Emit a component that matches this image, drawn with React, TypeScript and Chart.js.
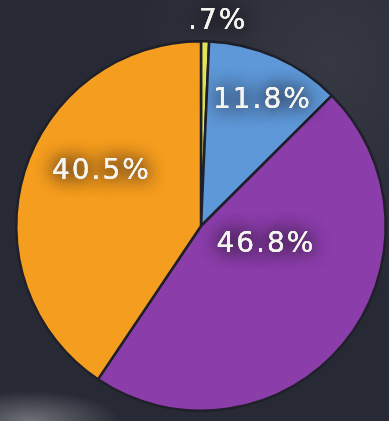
import React, { useEffect, useRef } from "react";
import { Chart, registerables } from "chart.js";

Chart.register(...registerables);

const categories = ["Yellow", "Blue", "Purple", "Orange"];
const values = [0.7, 11.8, 46.8, 40.5];
const sliceColors = ["#e4e45c", "#5e98d8", "#8b3daa", "#f59d1e"];
// label placement: angle (deg, clockwise from top, relative to chart centre) and radius fraction
const labelAngles = [4.7, 26.2, 106.3, -61.6];
const labelRadii = [1.108, 0.753, 0.366, 0.613];

const fmt = (v: number) => `${v}`.replace(/^0\./, ".") + "%";

const labelPlugin = {
  id: "chalkLabels",
  afterDatasetsDraw(chart: any) {
    const meta = chart.getDatasetMeta(0);
    const ctx = chart.ctx;
    ctx.save();
    ctx.font = "28px 'DejaVu Sans'";
    (ctx as any).letterSpacing = "2px";
    ctx.textAlign = "center";
    ctx.textBaseline = "middle";
    meta.data.forEach((arc: any, i: number) => {
      const a = (labelAngles[i] * Math.PI) / 180;
      const r = arc.outerRadius * labelRadii[i];
      const x = arc.x + r * Math.sin(a);
      const y = arc.y - r * Math.cos(a);
      ctx.shadowColor = "rgba(30,22,30,1)";
      ctx.shadowBlur = 18;
      ctx.fillStyle = "#f4f4f0";
      ctx.fillText(fmt(values[i]), x, y);
      ctx.fillText(fmt(values[i]), x, y);
      ctx.shadowBlur = 0;
      ctx.fillText(fmt(values[i]), x, y);
    });
    ctx.restore();
  },
};

export default function App() {
  const ref = useRef<HTMLCanvasElement>(null);
  useEffect(() => {
    document.body.style.margin = "0";
    const chart = new Chart(ref.current!, {
      type: "pie",
      data: {
        labels: categories,
        datasets: [
          {
            data: values,
            backgroundColor: sliceColors,
            borderColor: "#1f2029",
            borderWidth: 2.5,
          },
        ],
      },
      options: {
        responsive: false,
        animation: false,
        layout: { padding: { left: 15, right: 2, top: 40, bottom: 9 } },
        plugins: {
          legend: { display: false },
          tooltip: { enabled: false },
        },
      },
      plugins: [labelPlugin],
    });
    return () => chart.destroy();
  }, []);
  return (
    <div
      style={{
        position: "absolute",
        left: 0,
        top: 0,
        width: 389,
        height: 421,
        background:
          "radial-gradient(ellipse 90px 30px at 30px 421px, rgba(160,160,165,0.6) 0%, rgba(0,0,0,0) 100%), radial-gradient(ellipse at 85% 15%, rgba(65,68,78,0.55) 0%, rgba(0,0,0,0) 45%), #272a35",
      }}
    >
      <canvas ref={ref} width={389} height={421} style={{ display: "block" }} />
    </div>
  );
}
